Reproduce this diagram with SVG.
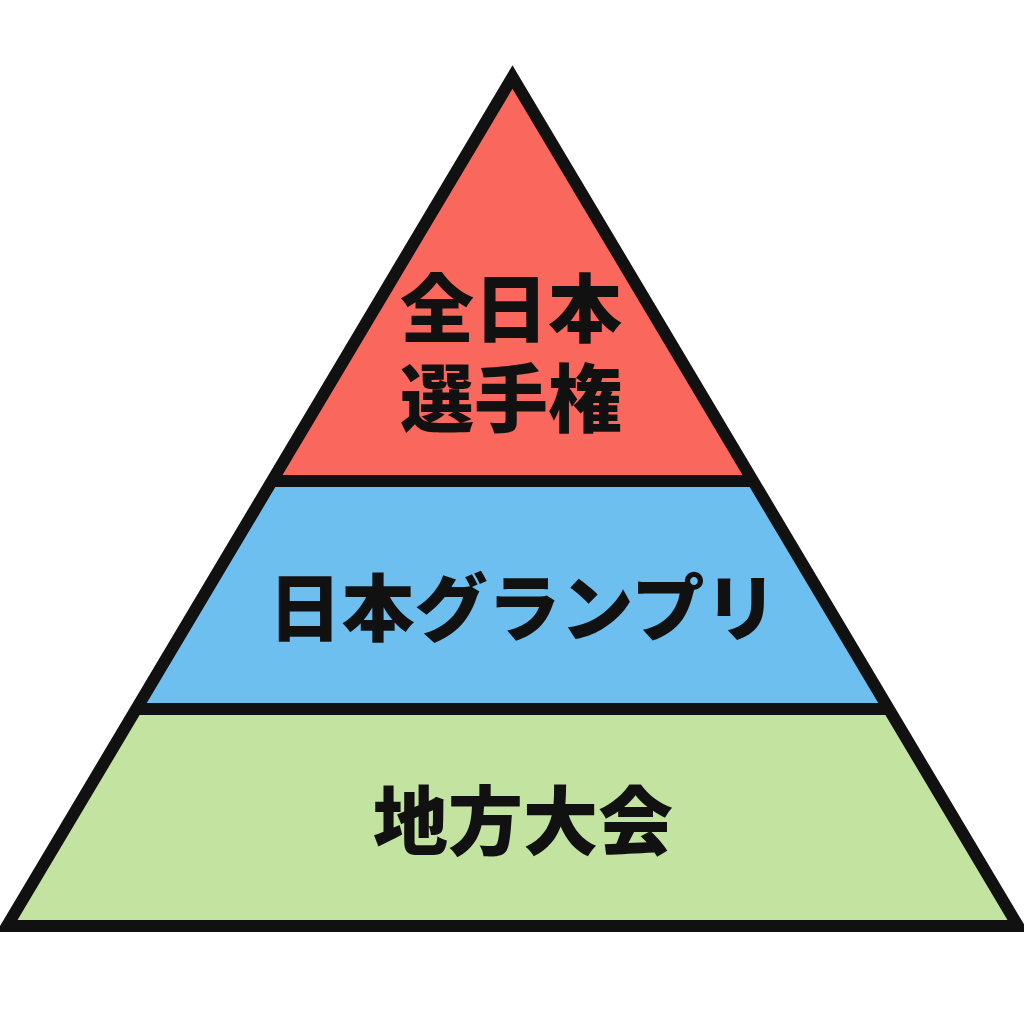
<svg xmlns="http://www.w3.org/2000/svg" width="1024" height="1024" viewBox="0 0 1024 1024">
<style>
.lbl{font-family:"Noto Sans CJK JP","Noto Sans CJK SC",sans-serif;font-weight:900;fill:#111;text-anchor:middle}
.edge{stroke:#111;stroke-width:12;fill:none;stroke-linejoin:miter;stroke-miterlimit:10}
</style>
<rect width="1024" height="1024" fill="#fff"/>
<g id="tier-top">
<polygon points="512.5,77 271,481 754,481" fill="#FA675C"/>
<text class="lbl" font-size="74"><tspan x="511" y="336">全日本</tspan><tspan x="511" y="426">選手権</tspan></text>
</g>
<g id="tier-middle">
<polygon points="271,481 754,481 890,709 135,709" fill="#6DBFEF"/>
<text class="lbl" x="523" y="635" font-size="73">日本グランプリ</text>
</g>
<g id="tier-bottom">
<polygon points="135,709 890,709 1018,926 7,926" fill="#C3E3A0"/>
<text class="lbl" x="523" y="849" font-size="75">地方大会</text>
</g>
<g id="connectors">
<polygon class="edge" points="512.5,77 1018,926 7,926"/>
<line class="edge" x1="271" y1="481" x2="754" y2="481"/>
<line class="edge" x1="135" y1="709" x2="890" y2="709"/>
</g>
</svg>
